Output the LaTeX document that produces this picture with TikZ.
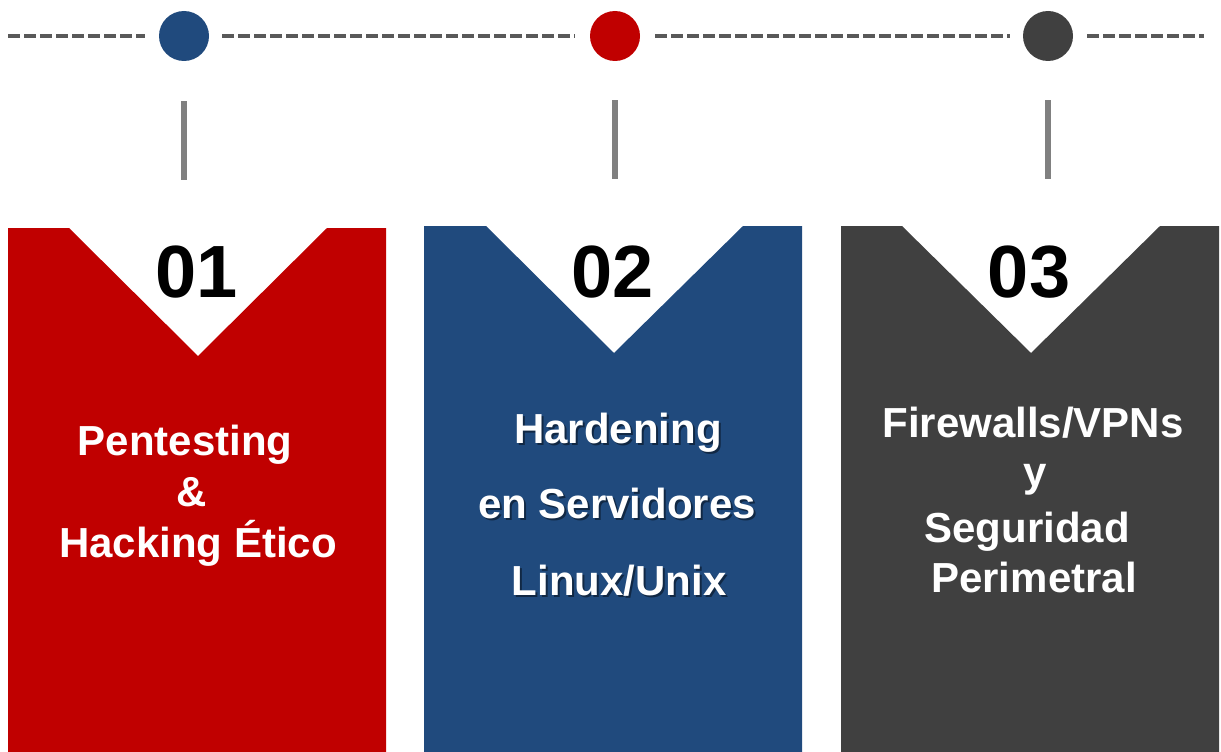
\documentclass[tikz,border=0pt]{standalone}
\usepackage{fontspec}
\setmainfont{Liberation Sans}
\definecolor{cred}{HTML}{C00000}
\definecolor{cblue}{HTML}{204A7D}
\definecolor{cgray}{HTML}{404040}
\definecolor{dashgray}{HTML}{595959}
\definecolor{bargray}{HTML}{808080}
\begin{document}
\begin{tikzpicture}[x=1pt,y=-1pt,
  dot/.style={circle,inner sep=0pt,minimum size=50pt},
  timeline/.style={draw=dashgray,line width=4.5pt,dash pattern=on 12pt off 4pt},
  stem/.style={draw=bargray,line width=6pt},
  numtxt/.style={anchor=base,font=\fontsize{74}{80}\selectfont\bfseries,text=black,inner sep=0pt},
  bodytxt/.style={anchor=base,font=\fontsize{42}{50}\selectfont\bfseries,text=white,inner sep=0pt},
  shadowtxt/.style={anchor=base,font=\fontsize{42}{50}\selectfont\bfseries,text=black,text opacity=0.45,inner sep=0pt}]
\useasboundingbox (0,0) rectangle (1221,752);
% dots
\node[dot,fill=cblue] (c1) at (184,36) {};
\node[dot,fill=cred] (c2) at (615,36) {};
\node[dot,fill=cgray] (c3) at (1048,36) {};
\coordinate (lend) at (8,36);
\coordinate (rend) at (1204,36);
% timeline
\draw[timeline] (lend) -- ([xshift=-14pt]c1.west);
\draw[timeline] ([xshift=13pt]c1.east) -- ([xshift=-15pt]c2.west);
\draw[timeline] ([xshift=15pt]c2.east) -- ([xshift=-13pt]c3.west);
\draw[timeline] ([xshift=14pt]c3.east) -- (rend);
% stems
\coordinate (s1t) at (184,101); \coordinate (s1b) at (184,180);
\coordinate (s2t) at (615,100); \coordinate (s2b) at (615,179);
\coordinate (s3t) at (1048,100); \coordinate (s3b) at (1048,179);
\draw[stem] (s1t) -- (s1b);
\draw[stem] (s2t) -- (s2b);
\draw[stem] (s3t) -- (s3b);
% panels
\fill[cred] (8,228) -- (69,228) -- (198,356) -- (327,228) -- (386,228) -- (386,752) -- (8,752) -- cycle;
\fill[cblue] (424,226) -- (486,226) -- (614,353) -- (743,226) -- (802,226) -- (802,752) -- (424,752) -- cycle;
\fill[cgray] (841,226) -- (902,226) -- (1031,353) -- (1160,226) -- (1219,226) -- (1219,752) -- (841,752) -- cycle;
% numbers
\node[numtxt] (n1) at (197,297) {01};
\node[numtxt] (n2) at (613,297) {02};
\node[numtxt] (n3) at (1029,297) {03};
% panel 1 text
\node[bodytxt] (p1a) at (185,455) {Pentesting};
\node[bodytxt] (p1b) at (192,506) {\&};
\node[bodytxt] (p1c) at (198,557) {Hacking Ético};
% panel 2 text with shadow
\node[shadowtxt] at (620,445) {Hardening};
\node[shadowtxt] at (619,520) {en Servidores};
\node[shadowtxt] at (621,597) {Linux/Unix};
\node[bodytxt] (p2a) at (618,443) {Hardening};
\node[bodytxt] (p2b) at (617,518) {en Servidores};
\node[bodytxt] (p2c) at (619,595) {Linux/Unix};
% panel 3 text
\node[bodytxt] (p3a) at (1033,437) {Firewalls/VPNs};
\node[bodytxt] (p3b) at (1035,486) {y};
\node[bodytxt] (p3c) at (1027,542) {Seguridad};
\node[bodytxt] (p3d) at (1034,592) {Perimetral};
\end{tikzpicture}
\end{document}
